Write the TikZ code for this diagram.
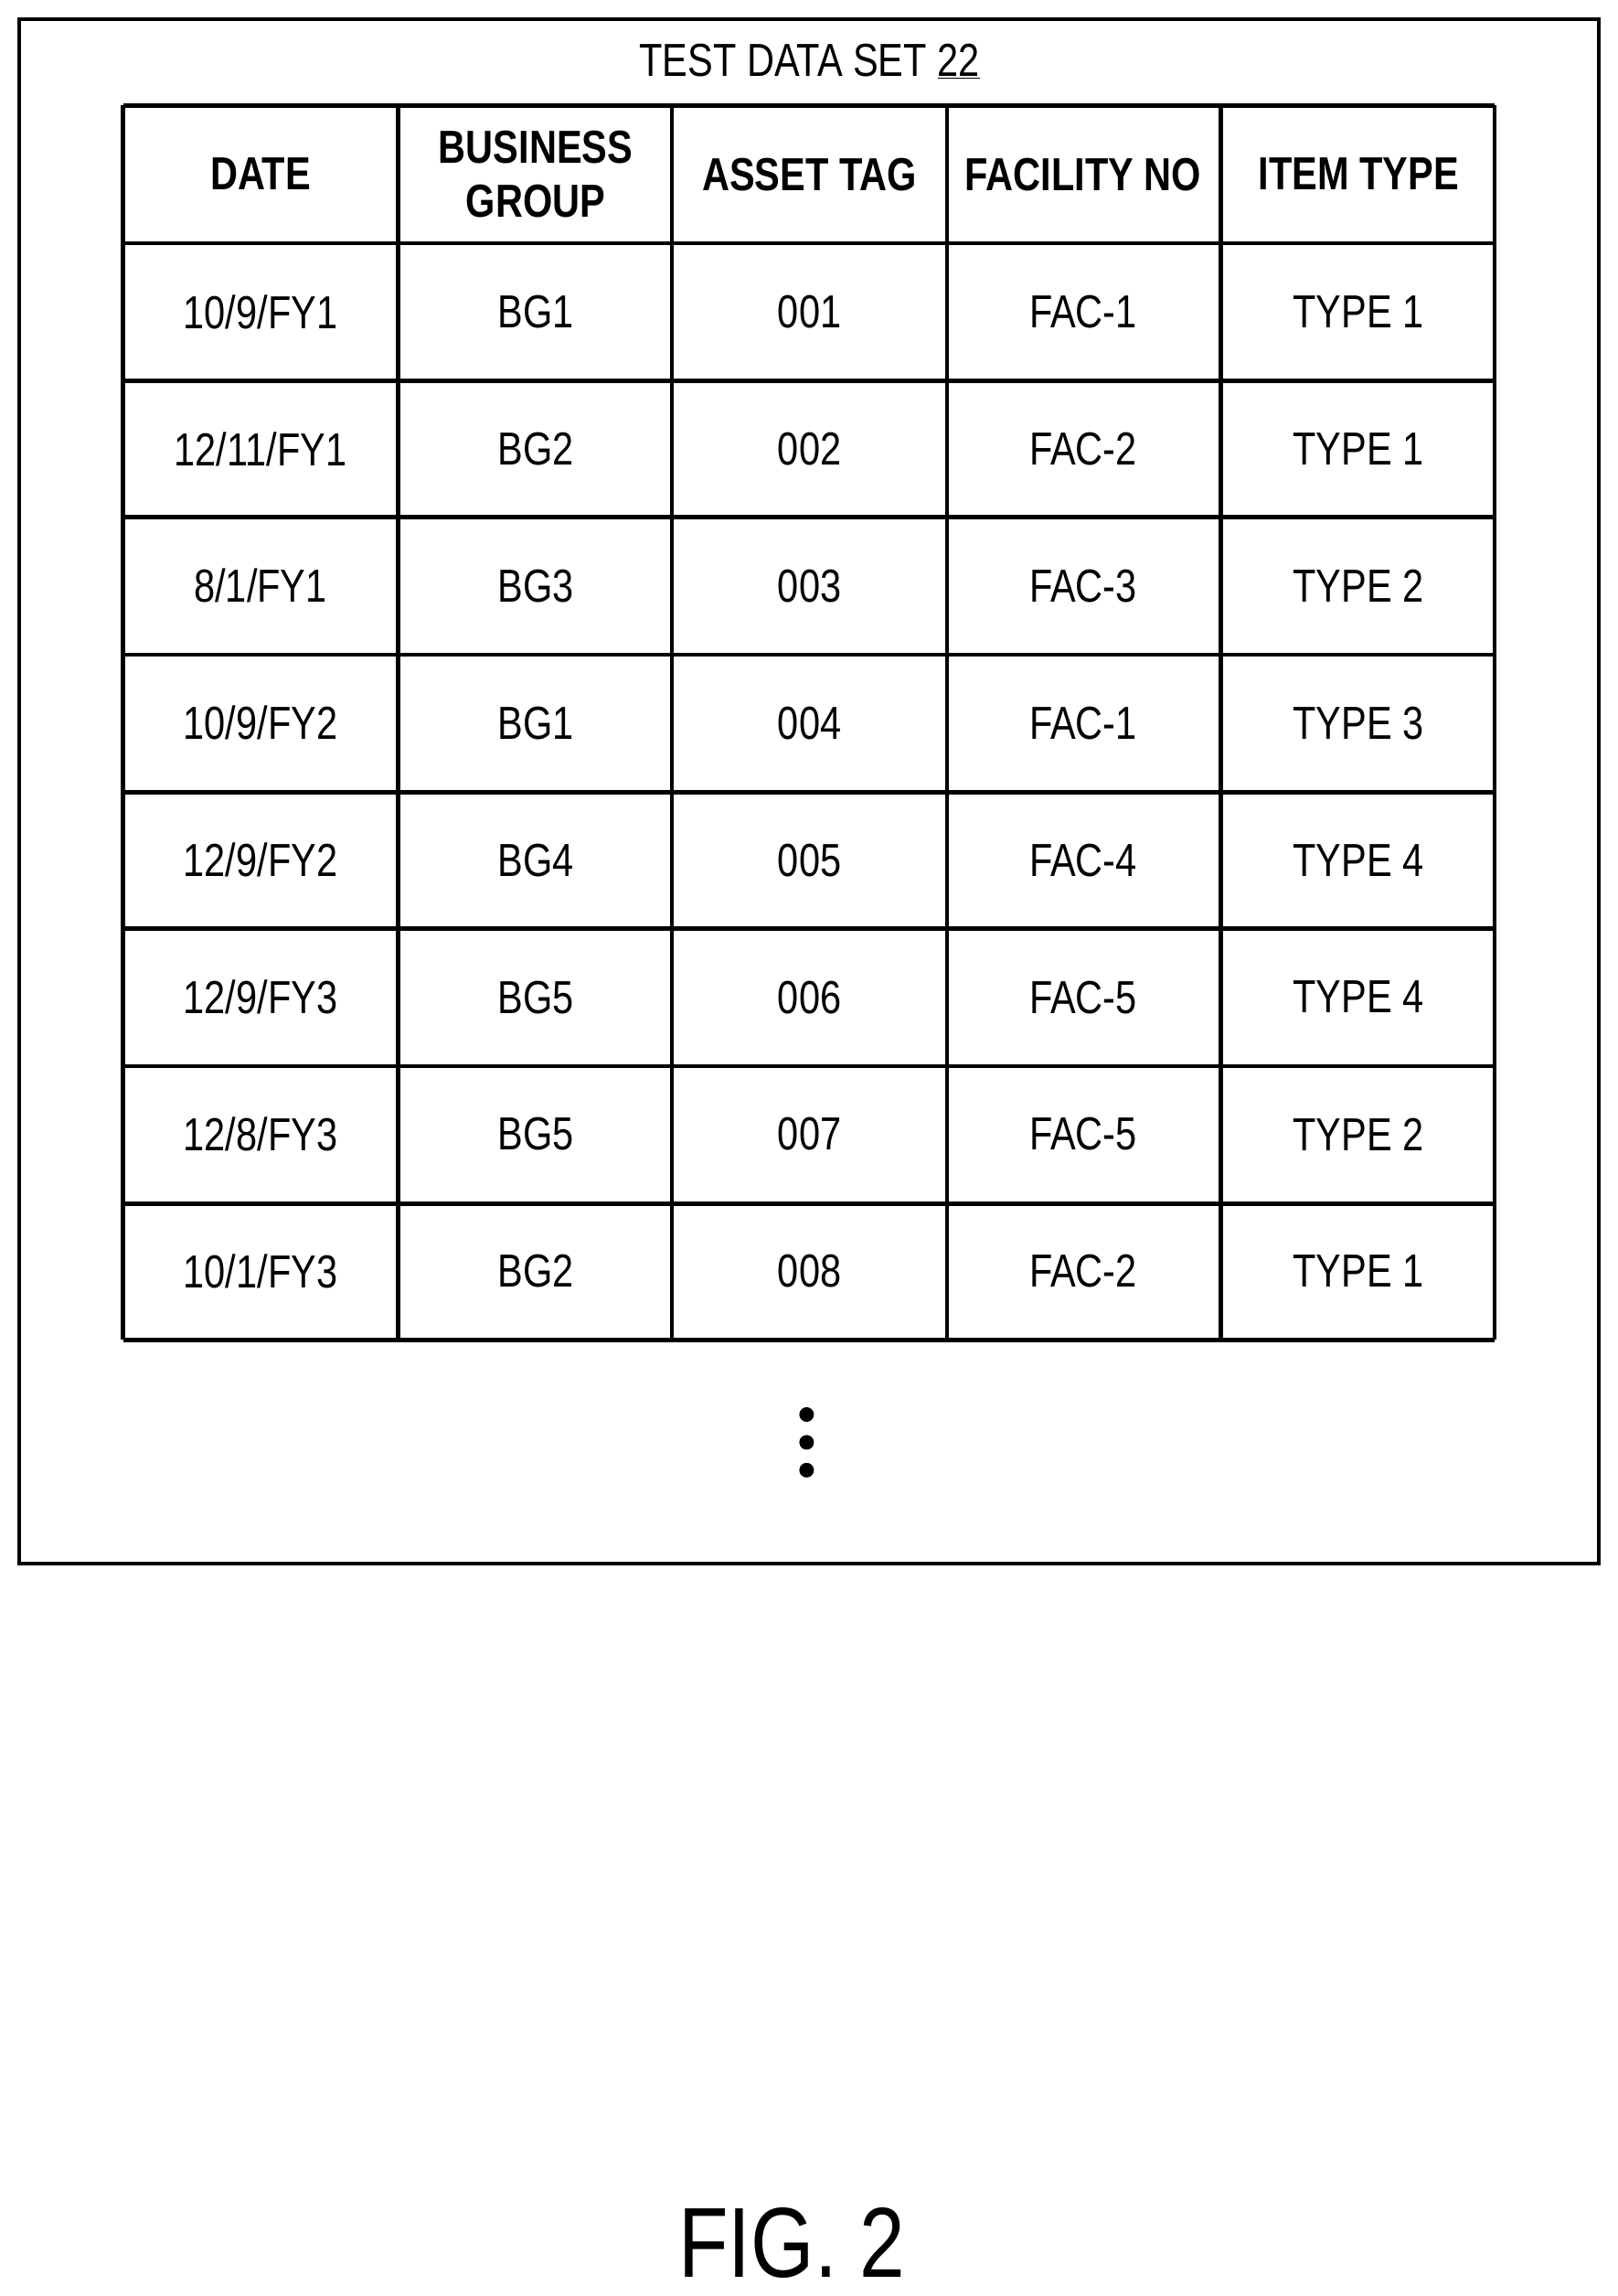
\documentclass[tikz,border=0pt]{standalone}
\usepackage{fontspec}
\setmainfont[FakeStretch=0.82]{Liberation Sans}
\begin{document}
\begin{tikzpicture}[x=0.03cm,y=-0.03cm,
  cell/.style={font=\fontsize{27}{30}\selectfont},
  head/.style={font=\fontsize{27}{31}\selectfont\bfseries,align=center}]
\useasboundingbox (0,0) rectangle (1105,1568);
\draw[line width=2pt] (13,13) rectangle (1092,1068);
\node[font=\fontsize{27}{30}\selectfont] (title) at (553,42) {TEST DATA SET \underline{22}};
\foreach \x in {84,272,459,647,834,1021} \draw[line width=2.4pt] (\x,72) -- (\x,915);
\foreach \y in {72,166,260,353,447,541,634,728,822,915} \draw[line width=2.4pt] (84,\y) -- (1021,\y);
\node[head] (h1) at (178,119) {DATE};
\node[head] (h2) at (366,119) {BUSINESS\\GROUP};
\node[head] (h3) at (553,119) {ASSET TAG};
\node[head] (h4) at (740,119) {FACILITY NO};
\node[head] (h5) at (928,119) {ITEM TYPE};
\foreach \d/\b/\a/\f/\t [count=\i] in {
 {10/9/FY1}/BG1/001/FAC-1/TYPE 1,
 {12/11/FY1}/BG2/002/FAC-2/TYPE 1,
 {8/1/FY1}/BG3/003/FAC-3/TYPE 2,
 {10/9/FY2}/BG1/004/FAC-1/TYPE 3,
 {12/9/FY2}/BG4/005/FAC-4/TYPE 4,
 {12/9/FY3}/BG5/006/FAC-5/TYPE 4,
 {12/8/FY3}/BG5/007/FAC-5/TYPE 2,
 {10/1/FY3}/BG2/008/FAC-2/TYPE 1}{
 \pgfmathsetmacro{\yy}{166+93.6*(\i-1)+47}
 \node[cell] (d\i) at (178,\yy) {\d};
 \node[cell] (b\i) at (366,\yy) {\b};
 \node[cell] (a\i) at (553,\yy) {\a};
 \node[cell] (f\i) at (740,\yy) {\f};
 \node[cell] (t\i) at (928,\yy) {\t};
}
\foreach \y [count=\j] in {966,985,1004} \fill (551,\y) circle (5) coordinate (dot\j);
\node[font=\fontsize{58}{62}\selectfont] (fig) at (541,1532) {FIG. 2};
\end{tikzpicture}
\end{document}
